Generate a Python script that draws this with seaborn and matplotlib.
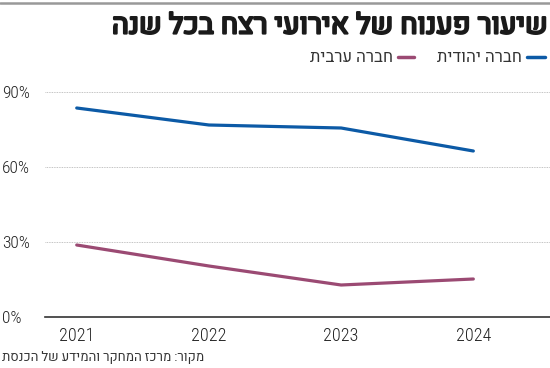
import matplotlib
matplotlib.use("Agg")
import matplotlib.pyplot as plt
import matplotlib.patheffects as pe
from matplotlib.lines import Line2D
from matplotlib.ticker import FuncFormatter
import pandas as pd
import seaborn as sns

# data
years = [2021, 2022, 2023, 2024]
jewish = [83.6, 76.8, 75.6, 66.4]
arab = [28.8, 20.4, 12.8, 15.2]
y_ticks = [0, 30, 60, 90]

title = "שיעור פענוח של אירועי רצח בכל שנה"
label_jewish = "חברה יהודית"
label_arab = "חברה ערבית"
source = "מקור: מרכז המחקר והמידע של הכנסת"

blue = "#0c5aa6"
purple = "#9b4a73"


def rtl(s):
    # matplotlib has no bidi support, so flip the Hebrew strings by hand
    return s[::-1]


df = pd.DataFrame({
    "year": years * 2,
    "value": jewish + arab,
    "group": [label_jewish] * 4 + [label_arab] * 4,
})

sns.set_style("white")
plt.rcParams["font.family"] = ["Roboto Condensed", "Heebo", "DejaVu Sans"]

fig = plt.figure(figsize=(5.5, 3.68), dpi=100)
ax = fig.add_axes([45 / 550, 1 - 317 / 368, 505 / 550, (317 - 80) / 368])

sns.lineplot(data=df, x="year", y="value", hue="group",
             palette={label_jewish: blue, label_arab: purple},
             linewidth=2.3, legend=False, ax=ax)

ax.set_xlim(2020.76, 2024.58)
ax.set_ylim(0, 90 * (317 - 80) / (317 - 92))
ax.set_xticks(years)
ax.set_yticks(y_ticks)
ax.yaxis.set_major_formatter(FuncFormatter(lambda v, p: f"{v:.0f}%"))
ax.set_xlabel("")
ax.set_ylabel("")

for t in y_ticks[1:]:
    ax.axhline(t, color="#b0b0b0", linestyle=(0, (1, 1)), linewidth=0.6, zorder=0)

for s in ["top", "right", "left"]:
    ax.spines[s].set_visible(False)
ax.spines["bottom"].set_color("#333333")
ax.spines["bottom"].set_linewidth(1.2)

ax.tick_params(axis="x", direction="inout", length=8, width=1, color="#333333",
               labelsize=13, labelcolor="#222222", pad=3)
ax.tick_params(axis="y", length=0, labelsize=12.5, labelcolor="#222222", pad=31)
for lab in ax.get_yticklabels():
    lab.set_horizontalalignment("left")
for lab in ax.get_xticklabels() + ax.get_yticklabels():
    lab.set_fontweight("light")

# thin rule along the top
fig.add_artist(Line2D([0, 1], [1 - 2.5 / 368] * 2, color="#999999", linewidth=1.8))

# Heebo ships one weight here, so thicken the title with a stroke
fig.text(548 / 550, 1 - 26 / 368, rtl(title), ha="right", va="center",
         fontsize=20.5, family="Heebo", color="#1a1a1a",
         path_effects=[pe.withStroke(linewidth=1.6, foreground="#1a1a1a")])

# legend built by hand, right to left
fig.add_artist(Line2D([527 / 550, 545 / 550], [1 - 57 / 368] * 2, color=blue, linewidth=2.5))
fig.text(522 / 550, 1 - 57 / 368, rtl(label_jewish), ha="right", va="center",
         fontsize=12, color="#333333")
fig.add_artist(Line2D([398 / 550, 414 / 550], [1 - 57 / 368] * 2, color=purple, linewidth=2.5))
fig.text(393 / 550, 1 - 57 / 368, rtl(label_arab), ha="right", va="center",
         fontsize=12, color="#333333")

fig.text(2 / 550, 1 - 357 / 368, rtl(source), ha="left", va="center",
         fontsize=9.5, color="#333333")

fig.savefig("out.png", dpi=100)
